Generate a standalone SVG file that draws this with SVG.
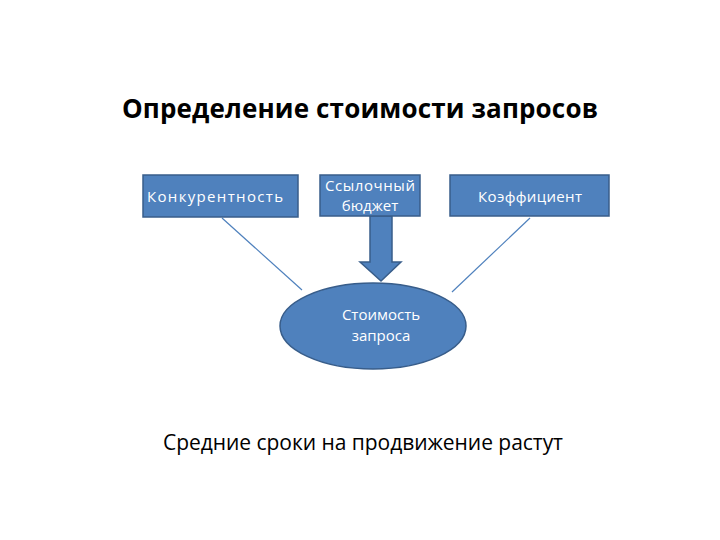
<svg xmlns="http://www.w3.org/2000/svg" width="720" height="540" viewBox="0 0 720 540">
<style>
.box{fill:#4f81bd;stroke:#385d8a;stroke-width:1.5}
.t{font-family:"Open Sans","Liberation Sans",sans-serif;fill:#fff;font-size:15px;text-anchor:middle}
.h{font-family:"Open Sans","Liberation Sans",sans-serif;fill:#000;text-anchor:middle}
.ln{stroke:#4f81bd;stroke-width:1.2;fill:none}
</style>
<rect width="720" height="540" fill="#fff"/>
<text class="h" x="360" y="118" font-size="26" font-weight="bold" textLength="476">Определение стоимости запросов</text>
<g id="connectors">
<line class="ln" x1="222" y1="218" x2="302" y2="290"/>
<line class="ln" x1="530" y1="218" x2="452" y2="292"/>
<path class="box" d="M370 216 H392 V262 H401 L381 281 L360 262 H370 Z"/>
</g>
<g id="konk"><rect class="box" x="143" y="175" width="155" height="42"/><text class="t" x="215" y="202" textLength="136">Конкурентность</text></g>
<g id="budget"><rect class="box" x="320" y="175" width="100" height="41"/><text class="t" x="370" y="191" textLength="90">Ссылочный</text><text class="t" x="370" y="211">бюджет</text></g>
<g id="koef"><rect class="box" x="450" y="175" width="159" height="41"/><text class="t" x="530" y="202" textLength="104">Коэффициент</text></g>
<g id="cost"><ellipse class="box" cx="373" cy="326" rx="93" ry="43"/><text class="t" x="381" y="320">Стоимость</text><text class="t" x="381" y="341">запроса</text></g>
<text class="h" x="363" y="450" font-size="21" textLength="400">Средние сроки на продвижение растут</text>
</svg>
